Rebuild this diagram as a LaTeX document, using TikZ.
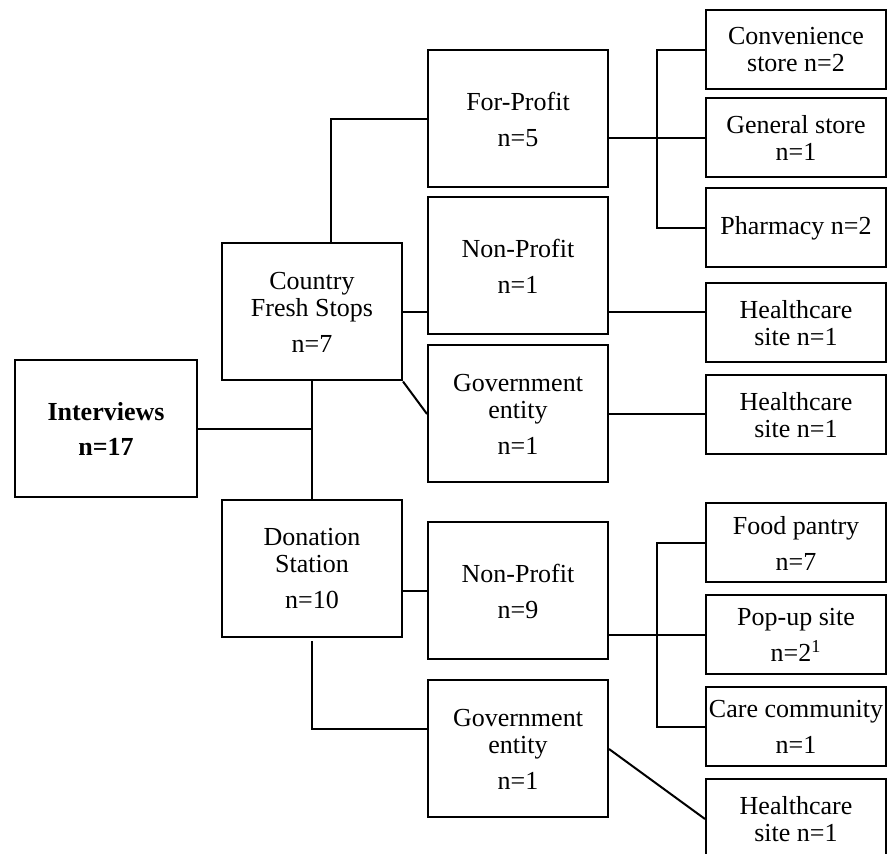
\documentclass[tikz,border=0pt]{standalone}
\usepackage{fontspec}
\setmainfont{Liberation Serif}
\usepackage{tikz}

\tikzset{
    box/.style={draw, line width=1pt, align=center, inner sep=1pt,
        minimum width=90pt, minimum height=68.5pt,
        font=\fontsize{13}{13.5}\selectfont},
    leaf/.style={box, minimum height=39.5pt},
    link/.style={line width=1pt}
}

\begin{document}
\begin{tikzpicture}[x=0.5pt, y=-0.5pt]
    \useasboundingbox (0,0) rectangle (889,854);

    % Root
    \node[box, minimum width=91pt] (intv) at (106,429) {\textbf{Interviews}\\[4pt]\textbf{n=17}};

    % Programs
    \node[box] (cfs) at (312,312) {Country\\Fresh Stops\\[4.5pt]n=7};
    \node[box] (ds) at (312,569) {Donation\\Station\\[4.5pt]n=10};

    % Site types
    \node[box] (fp) at (518,119) {For-Profit\\[4.5pt]n=5};
    \node[box] (np1) at (518,266) {Non-Profit\\[4.5pt]n=1};
    \node[box] (ge1) at (518,414) {Government\\entity\\[4.5pt]n=1};
    \node[box] (np2) at (518,591) {Non-Profit\\[4.5pt]n=9};
    \node[box] (ge2) at (518,749) {Government\\entity\\[4.5pt]n=1};

    % Sites
    \node[leaf] (cs) at (796,50) {Convenience\\store n=2};
    \node[leaf] (gs) at (796,138) {General store\\n=1};
    \node[leaf] (ph) at (796,228) {Pharmacy n=2};
    \node[leaf] (hc1) at (796,323) {Healthcare\\site n=1};
    \node[leaf] (hc2) at (796,415) {Healthcare\\site n=1};
    \node[leaf] (fd) at (796,543) {Food pantry\\[4.5pt]n=7};
    \node[leaf] (pu) at (796,635) {Pop-up site\\[4.5pt]n=2\textsuperscript{1}};
    \node[leaf] (cc) at (796,727) {Care community\\[4.5pt]n=1};
    \node[leaf] (hc3) at (796,819) {Healthcare\\site n=1};

    \coordinate (bus) at (657,0);

    % Root to programs
    \draw[link] (intv.east) -- (intv.east -| cfs.south);
    \draw[link] (cfs.south) -- (ds.north);

    % Country Fresh Stops
    \draw[link] ([xshift=9.5pt]cfs.north) |- (fp.west);
    \draw[link] (cfs.east) -- (cfs.east -| np1.west);
    \draw[link] (cfs.south east) -- (ge1.west);

    % Donation Station
    \draw[link] (np2.west -| ds.east) -- (np2.west);
    \draw[link] ([yshift=-1.5pt]ds.south) |- ([yshift=10pt]ge2.west);

    % For-Profit sites
    \draw[link] (fp.east |- gs.west) -- (gs.west);
    \draw[link] (cs.west) -| (bus |- ph.west) -- (ph.west);

    % Single sites
    \draw[link] (cfs.east -| np1.east) -- (cfs.east -| hc1.west);
    \draw[link] (ge1.east) -- (ge1.east -| hc2.west);
    \draw[link] (ge2.east) -- (hc3.west);

    % Non-Profit sites
    \draw[link] (np2.east |- pu.west) -- (pu.west);
    \draw[link] (fd.west) -| (bus |- cc.west) -- (cc.west);
\end{tikzpicture}
\end{document}
